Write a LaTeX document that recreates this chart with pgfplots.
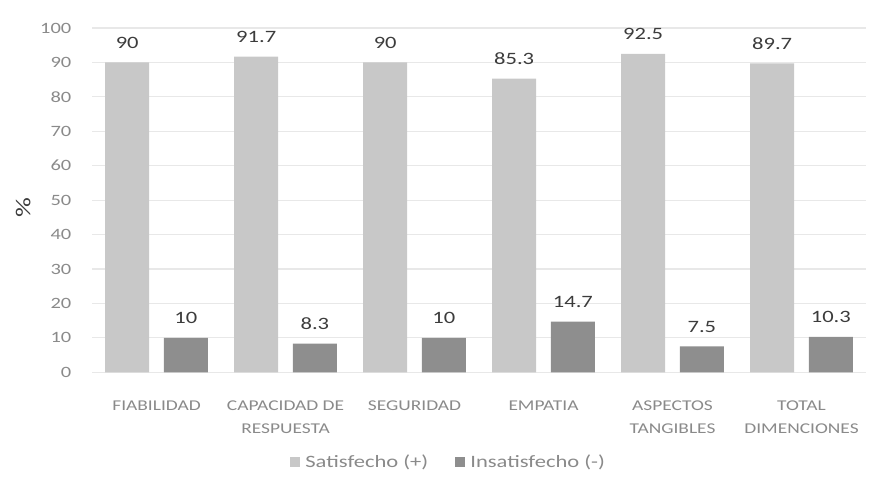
\documentclass[border=0pt]{standalone}
\usepackage{pgfplots}
\pgfplotsset{compat=1.18}
\usepackage{fontspec}
\setmainfont{Carlito}[FakeStretch=1.3]
\definecolor{lightbar}{HTML}{C8C8C8}
\definecolor{darkbar}{HTML}{8E8E8E}
\definecolor{tickgray}{HTML}{8A8A8A}
\definecolor{valgray}{HTML}{3C3C3C}
\definecolor{gridgray}{HTML}{E8E8E8}
\begin{document}
\begin{tikzpicture}
\begin{axis}[
  name=ax,
  scale only axis,
  width=580pt, height=258pt,
  xmin=-0.5, xmax=5.5, ymin=0, ymax=100,
  ytick={0,10,...,100},
  xtick={0,1,2,3,4,5},
  xticklabels={FIABILIDAD, {CAPACIDAD DE\\RESPUESTA}, SEGURIDAD, EMPATIA, {ASPECTOS\\TANGIBLES}, {TOTAL\\DIMENCIONES}},
  xticklabel style={align=center, font=\fontsize{11.2}{17}\selectfont, text=tickgray, yshift=-18pt},
  yticklabel style={font=\fontsize{11.8}{15}\selectfont, text=tickgray, xshift=-12pt},
  /pgf/number format/assume math mode=true,
  major tick length=0pt,
  axis line style={draw=none},
  ymajorgrids, grid style={gridgray, line width=0.8pt},
  ylabel={\%},
  ylabel style={at={(axis description cs:-0.089,0.477)}, anchor=center, font=\fontsize{16}{18}\selectfont, text=valgray},
  ybar, bar width=33pt,
  nodes near coords,
  nodes near coords style={font=\fontsize{13}{16}\selectfont, text=valgray, yshift=7pt},
  legend style={at={(axis description cs:0.461,-0.262)}, anchor=center, draw=none, legend columns=2,
    font=\fontsize{13}{15}\selectfont, text=tickgray,
    /tikz/every odd column/.append style={column sep=2pt},
    /tikz/every even column/.append style={column sep=18pt}},
  legend image code/.code={\fill[#1] (0pt,-3.7pt) rectangle (7.5pt,3.8pt);},
]
\addplot[fill=lightbar, draw=none, bar shift=-22pt] coordinates {(0,90) (1,91.7) (2,90) (3,85.3) (4,92.5) (5,89.7)};
\addplot[fill=darkbar, draw=none, bar shift=22pt] coordinates {(0,10) (1,8.3) (2,10) (3,14.7) (4,7.5) (5,10.3)};
\legend{Satisfecho (+), Insatisfecho (-)}
\end{axis}
\pgfresetboundingbox
\path[use as bounding box] ([shift={(-69pt,-85.5pt)}]ax.south west) rectangle ([shift={(6pt,21pt)}]ax.north east);
\end{tikzpicture}
\end{document}
